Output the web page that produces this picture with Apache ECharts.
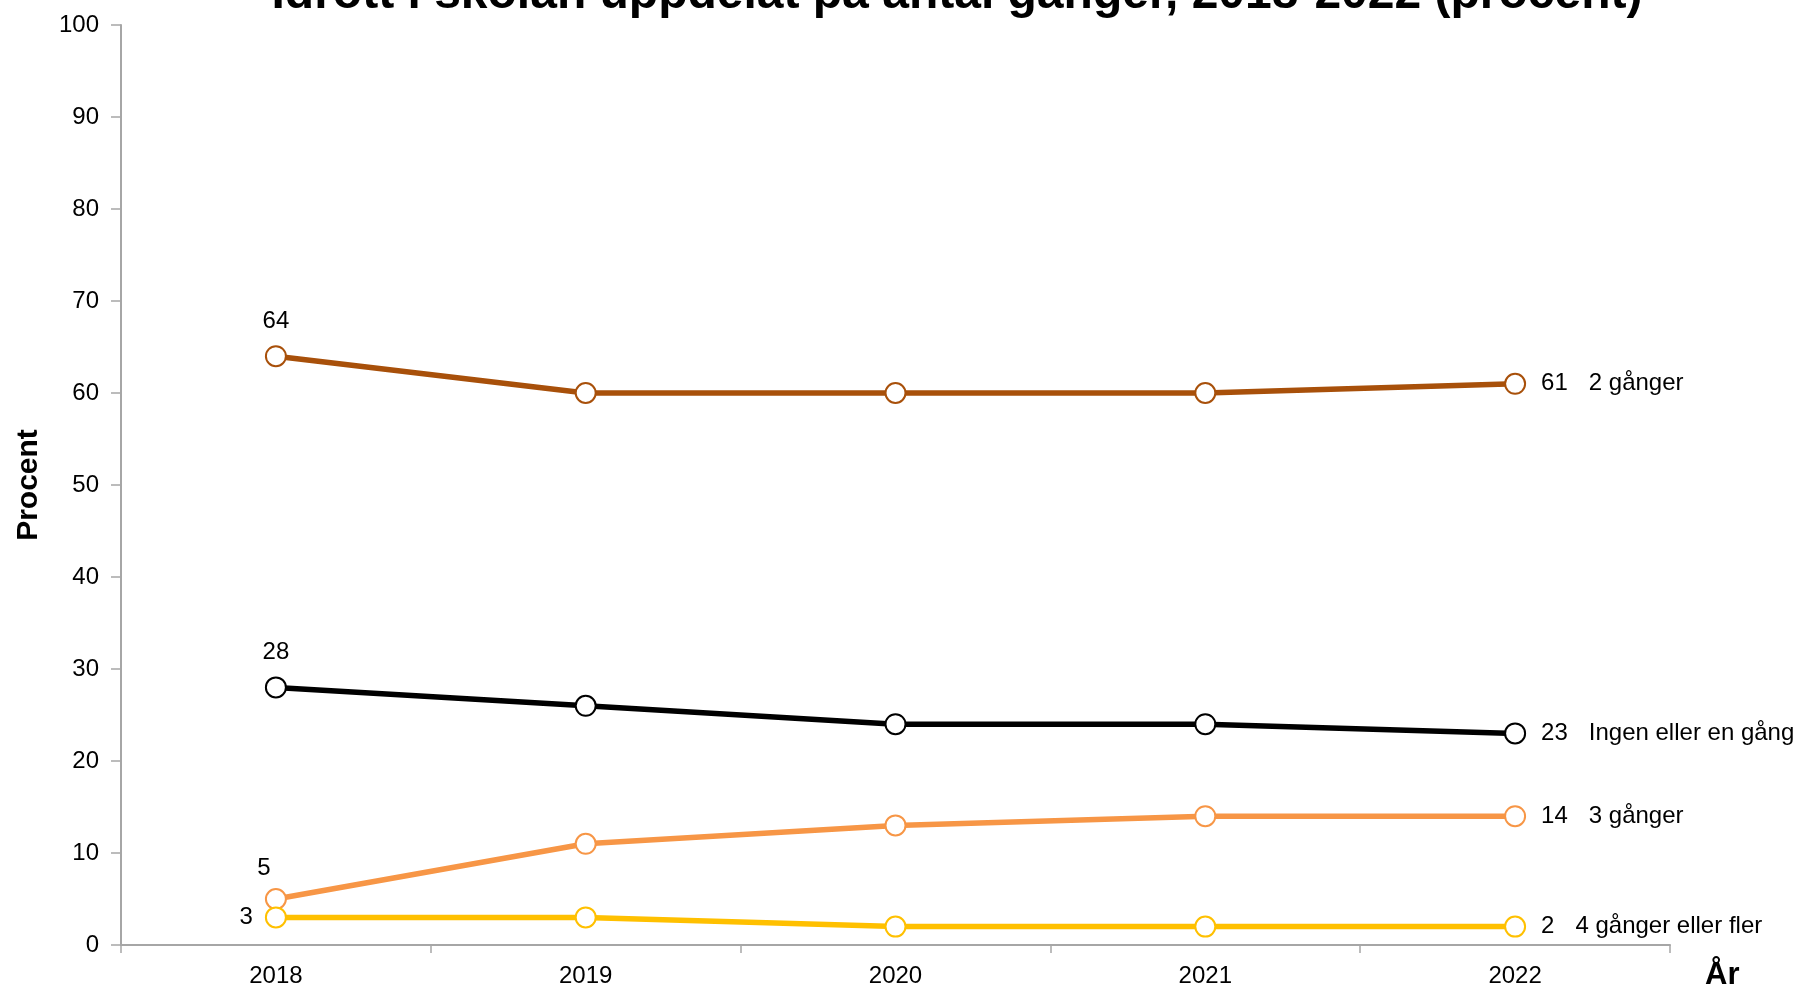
<!DOCTYPE html>
<html>
<head>
<meta charset="utf-8">
<script src="https://cdn.jsdelivr.net/npm/echarts@6/dist/echarts.min.js"></script>
<style>
html,body{margin:0;padding:0;background:#fff;}
#chart{width:1797px;height:988px;}
</style>
</head>
<body>
<div id="chart"></div>
<script>
const years = ['2018', '2019', '2020', '2021', '2022'];
const ingenEllerEn = [28, 26, 24, 24, 23];
const tvaGanger = [64, 60, 60, 60, 61];
const treGanger = [5, 11, 13, 14, 14];
const fyraEllerFler = [3, 3, 2, 2, 2];
const yTicks = [0, 10, 20, 30, 40, 50, 60, 70, 80, 90, 100];

const FONT = 'Liberation Sans, Arial, sans-serif';
const LBL = 24;

function buildData(values, firstLabel) {
  return values.map((v, i) => {
    const item = { value: v };
    if (i === 0) {
      item.label = Object.assign({ show: true, color: '#000', fontSize: LBL, fontFamily: FONT, formatter: '{c}' }, firstLabel);
    } else if (i === values.length - 1) {
      item.label = {
        show: true, position: 'right', distance: 15,
        formatter: p => '{v|' + p.value + '}{n|' + p.seriesName + '}',
        rich: {
          v: { fontSize: LBL, fontFamily: FONT, color: '#000' },
          n: { fontSize: LBL, fontFamily: FONT, color: '#000', padding: [0, 0, 0, 21] }
        }
      };
    }
    return item;
  });
}

function mkSeries(name, values, color, firstLabel) {
  return {
    name: name, type: 'line', data: buildData(values, firstLabel),
    symbol: 'emptyCircle', symbolSize: 20,
    lineStyle: { color: color, width: 5.5 },
    itemStyle: { color: color, borderColor: color, borderWidth: 2 },
    label: { show: false },
    emphasis: { disabled: true },
    animation: false
  };
}

const chart = echarts.init(document.getElementById('chart'));
chart.setOption({
  backgroundColor: '#fff',
  animation: false,
  title: {
    text: 'Idrott i skolan uppdelat på antal gånger, 2018-2022 (procent)',
    left: 952, top: -34, textAlign: 'center',
    textStyle: { fontSize: 48, fontWeight: 'bold', fontFamily: FONT, color: '#000' }
  },
  grid: { left: 121, right: 127, top: 25, bottom: 40, containLabel: false },
  xAxis: {
    type: 'category', data: years, boundaryGap: true,
    axisLine: { lineStyle: { color: '#a6a6a6', width: 2 } },
    axisTick: { show: true, length: 8, lineStyle: { color: '#a6a6a6', width: 1.5 } },
    axisLabel: { color: '#000', fontSize: LBL, fontFamily: FONT, margin: 19 },
    splitLine: { show: false }
  },
  yAxis: {
    type: 'value', min: yTicks[0], max: yTicks[yTicks.length - 1], interval: 10,
    name: 'Procent', nameLocation: 'middle', nameGap: 77, nameRotate: 90,
    nameTextStyle: { fontSize: 30, fontWeight: 'bold', fontFamily: FONT, color: '#000' },
    axisLine: { show: true, lineStyle: { color: '#a6a6a6', width: 2 } },
    axisTick: { show: true, length: 10, lineStyle: { color: '#a6a6a6', width: 1.5 } },
    axisLabel: { color: '#000', fontSize: LBL, fontFamily: FONT, margin: 22 },
    splitLine: { show: false }
  },
  graphic: [{
    type: 'text', left: 1705, top: 960,
    style: { text: 'År', font: 'bold 31px ' + FONT, fill: '#000' }
  }],
  series: [
    mkSeries('2 gånger', tvaGanger, '#A8500A', { position: 'top', distance: 12 }),
    mkSeries('Ingen eller en gång', ingenEllerEn, '#000000', { position: 'top', distance: 12 }),
    mkSeries('3 gånger', treGanger, '#F79646', { position: 'top', distance: 8, offset: [-12, 0] }),
    mkSeries('4 gånger eller fler', fyraEllerFler, '#FFC000', { position: 'left', distance: 12 })
  ]
});
</script>
</body>
</html>
